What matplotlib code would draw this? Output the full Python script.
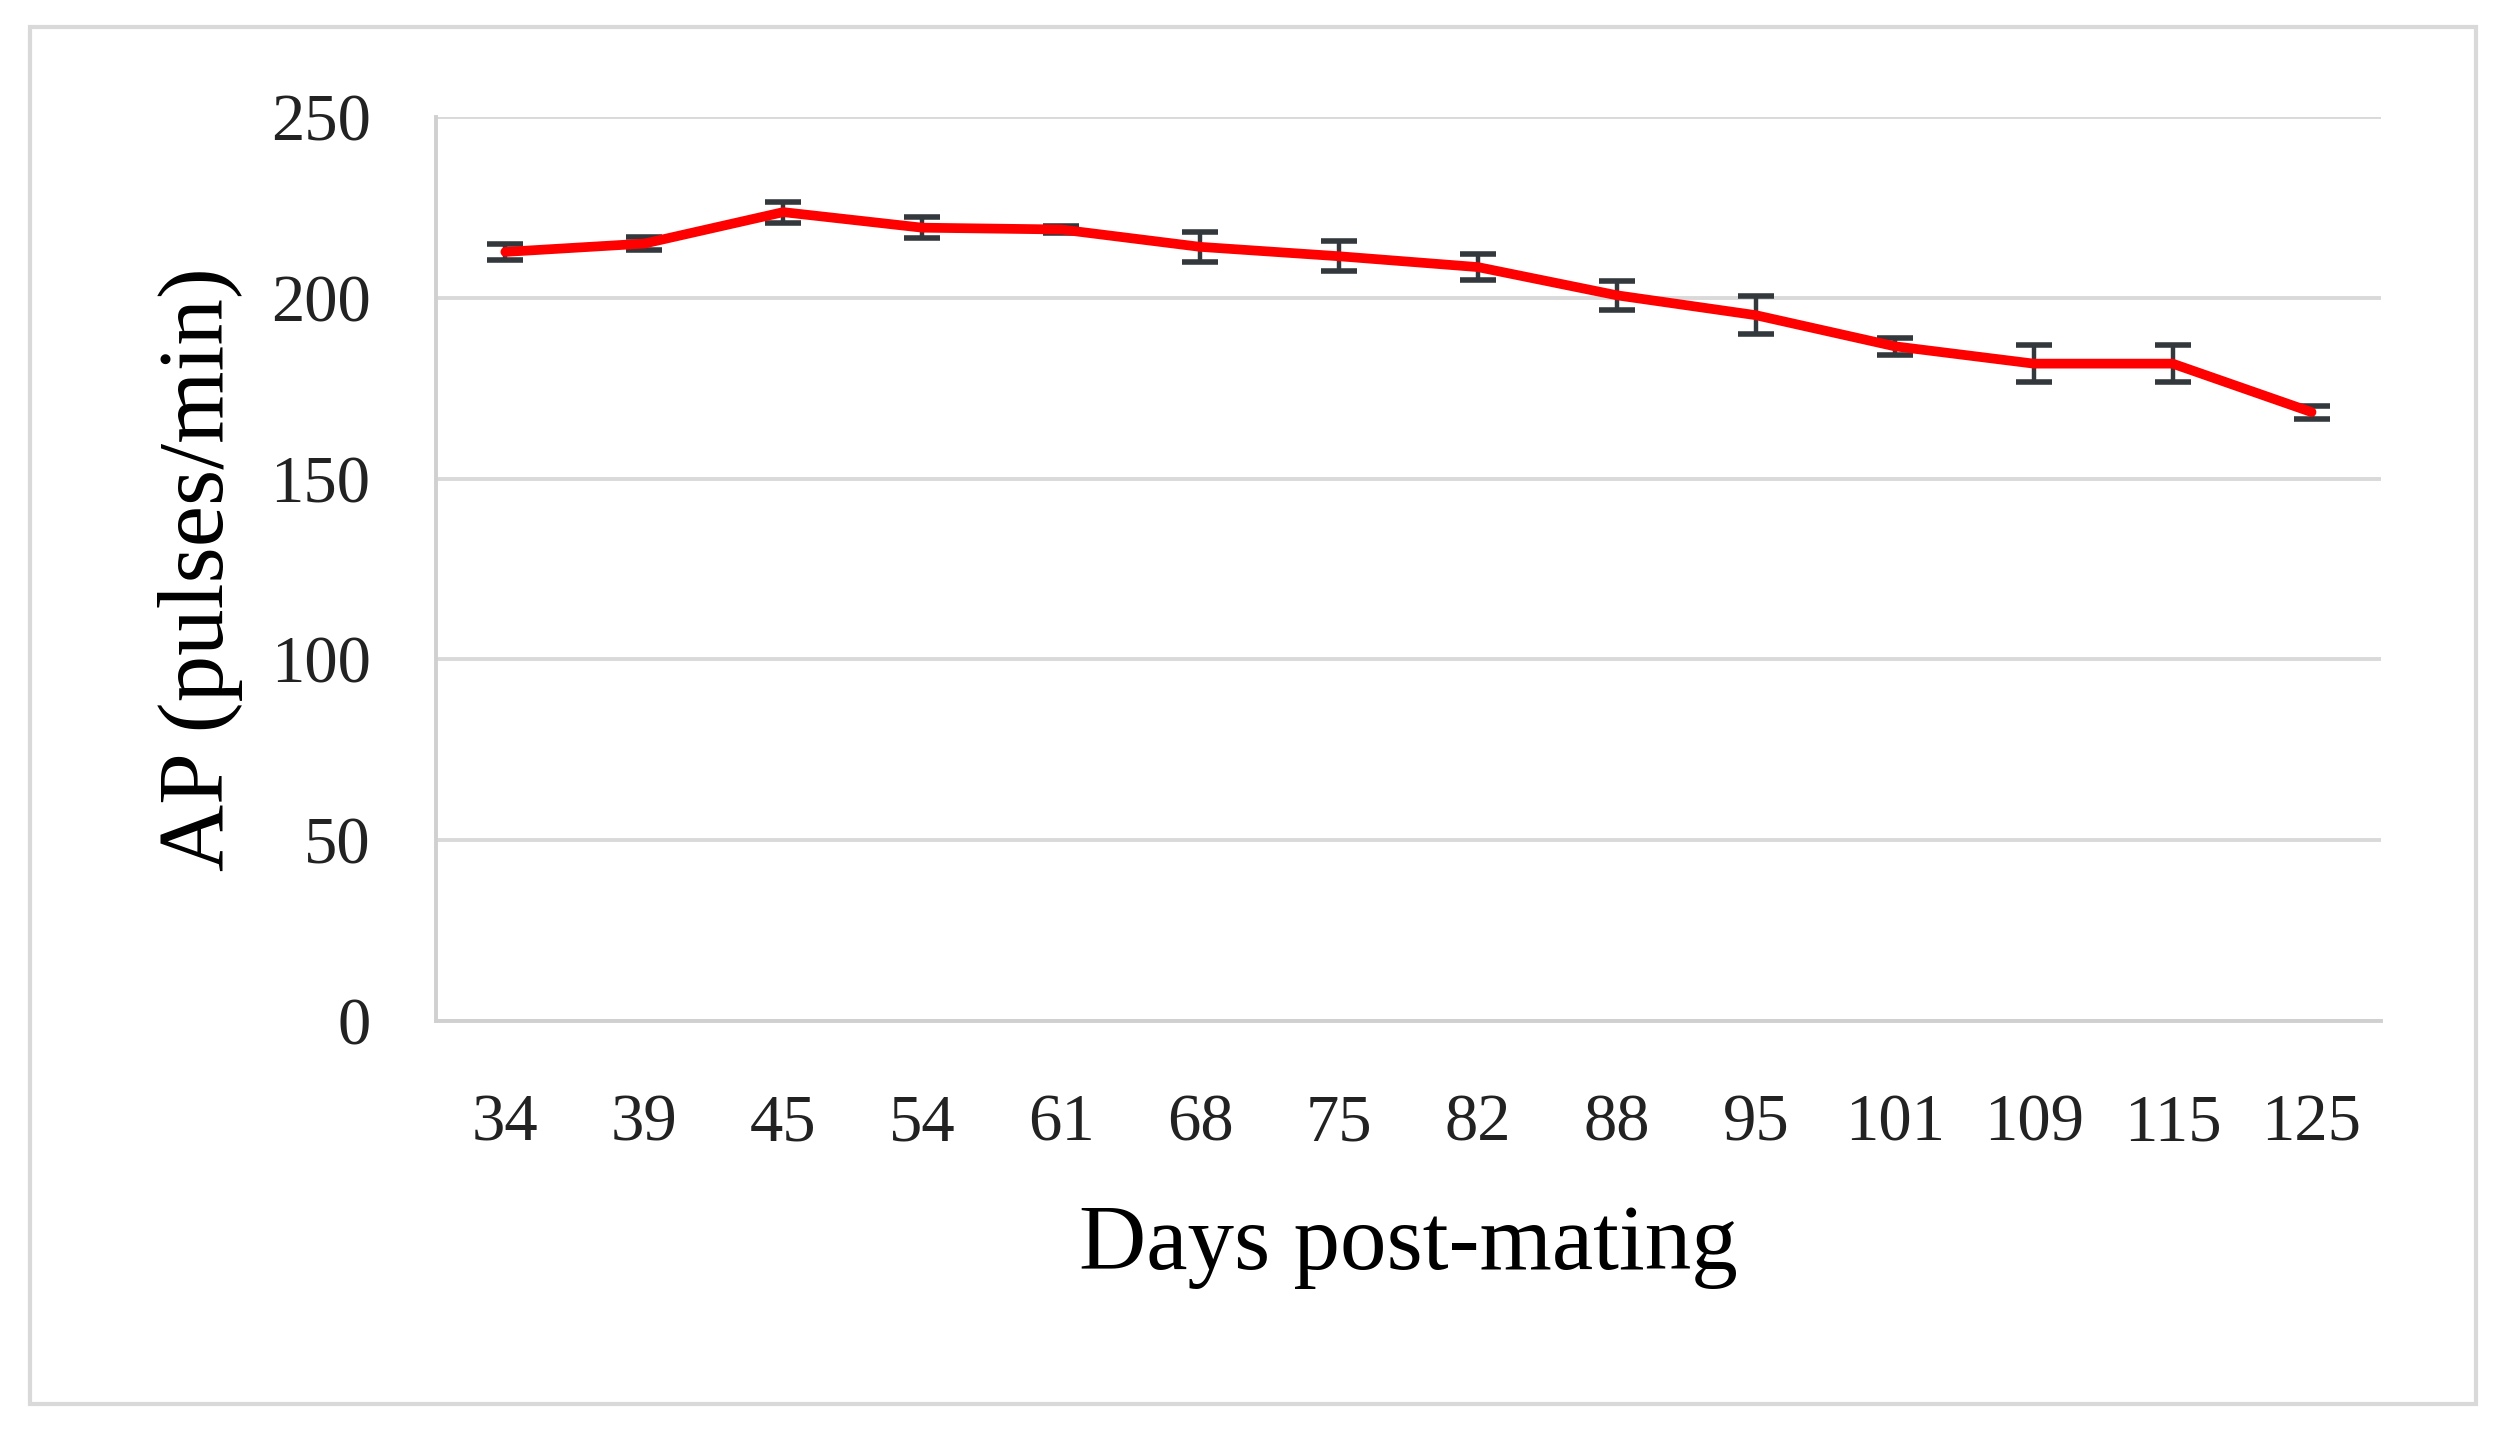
import matplotlib.pyplot as plt
from matplotlib.patches import Rectangle

# Data
days = ["34", "39", "45", "54", "61", "68", "75", "82", "88", "95", "101", "109", "115", "125"]
ap_mean = [212.7, 215.0, 223.7, 219.4, 218.9, 214.1, 211.5, 208.5, 200.7, 195.2, 186.6, 181.8, 181.8, 168.4]
ap_err = [2.3, 1.7, 2.9, 2.9, 1.0, 4.1, 4.1, 3.5, 4.0, 5.2, 2.3, 5.1, 5.1, 1.8]
y_ticks = [0, 50, 100, 150, 200, 250]

plt.rcParams['font.family'] = ['Liberation Serif', 'DejaVu Serif']

fig = plt.figure(figsize=(25.05, 14.36), dpi=100)
ax = fig.add_axes([0.174, 0.289, 0.7765, 0.6295])

x = list(range(len(days)))
ax.errorbar(x, ap_mean, yerr=ap_err, fmt='none', ecolor='#33383c',
            elinewidth=3.2, capsize=13, capthick=4, zorder=2)
ax.plot(x, ap_mean, color='#ff0000', linewidth=7, solid_capstyle='round', zorder=3)

ax.set_xlim(-0.5, len(days) - 0.5)
ax.set_ylim(0, 250)
ax.set_xticks(x)
ax.set_xticklabels(days)
ax.set_yticks(y_ticks)
ax.yaxis.grid(True, color='#d9d9d9', linewidth=2.8)
ax.set_axisbelow(True)
ax.tick_params(axis='both', length=0, labelsize=48, colors='#222222')
ax.tick_params(axis='x', pad=52)
ax.tick_params(axis='y', pad=47)

for side in ['top', 'right']:
    ax.spines[side].set_visible(False)
ax.spines['left'].set_color('#d0d0d0')
ax.spines['left'].set_linewidth(2.8)
ax.spines['bottom'].set_color('#d0d0d0')
ax.spines['bottom'].set_linewidth(2.8)

ax.set_xlabel("Days post-mating", fontsize=67, labelpad=36)
ax.set_ylabel("AP (pulses/min)", fontsize=67, labelpad=20)

# light frame around the whole chart
fig.patches.append(Rectangle((30 / 2505, 1 - 1404 / 1436), (2476 - 30) / 2505, (1404 - 27) / 1436,
                             transform=fig.transFigure, fill=False,
                             edgecolor='#d9d9d9', linewidth=3))

plt.savefig("out.png", dpi=100)
